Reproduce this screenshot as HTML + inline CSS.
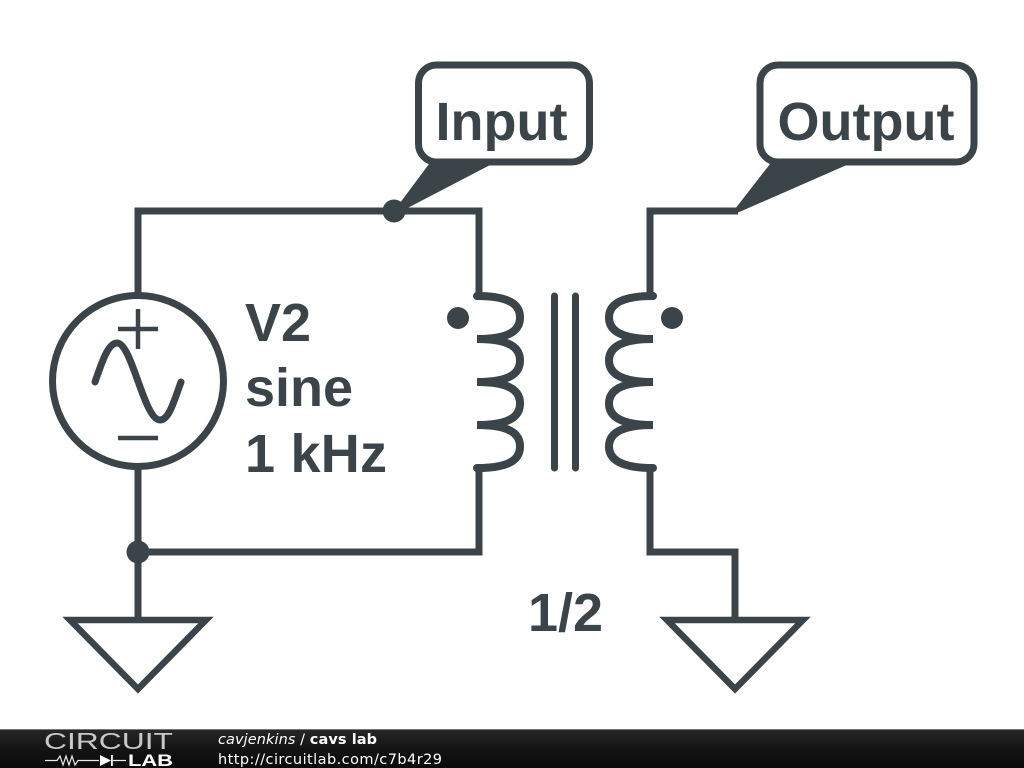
<!DOCTYPE html>
<html><head><meta charset="utf-8"><style>
html,body{margin:0;padding:0;background:#fff;width:1024px;height:768px;overflow:hidden}
svg{display:block}
</style></head><body>
<svg width="1024" height="768" viewBox="0 0 1024 768" xmlns="http://www.w3.org/2000/svg">
<defs><linearGradient id="b" x1="0" y1="0" x2="0" y2="1"><stop offset="0" stop-color="#282828"/><stop offset=".5" stop-color="#141414"/><stop offset="1" stop-color="#0a0a0a"/></linearGradient></defs>
<rect width="1024" height="768" fill="#fff"/>
<g fill="none" stroke="#3b4449" stroke-width="7" stroke-linejoin="miter">
<path d="M138 295V211H479V296"/>
<path d="M138 468V620"/>
<path d="M138 552H479V468"/>
<path d="M650 296V211H738"/>
<path d="M650 468V552H735V620"/>
<path d="M70 620H206L138 689Z" stroke-width="6.500"/>
<path d="M667 620H803L735 689Z" stroke-width="6.500"/>
<circle cx="138" cy="381" r="85.500"/>
<rect x="418.500" y="65" width="171" height="97" rx="18" fill="#fff"/>
<rect x="760" y="65" width="214" height="97" rx="18" fill="#fff"/>
<g stroke-linecap="round">
<path stroke-width="8" d="M477 296C512 296 520 306 520 317.500C520 329 512 339 477 339C512 339 520 349 520 360.500C520 372 512 382 477 382C512 382 520 392 520 403.500C520 415 512 425 477 425C512 425 520 435 520 446.500C520 458 512 468 477 468"/>
<path stroke-width="8" d="M653 296C618 296 609 306 609 317.500C609 329 618 339 653 339C618 339 609 349 609 360.500C609 372 618 382 653 382C618 382 609 392 609 403.500C609 415 618 425 653 425C618 425 609 435 609 446.500C609 458 618 468 653 468"/>
<path d="M554.500 296V468M575.500 296V468"/>
<path d="M95 382C102 362 108 343 117 343C132 343 144 420 160 420C169 420 174 401 181 382"/>
</g>
<path d="M118 329H158M138 309V349M118 438H158" stroke-width="4.500"/>
</g>
<g fill="#3b4449">
<circle cx="394" cy="211" r="11.500"/>
<circle cx="138" cy="552" r="11.500"/>
<circle cx="458" cy="318" r="11"/>
<circle cx="672" cy="318" r="11"/>
<path d="M394 211L429 164H492L398 213Z"/>
<path d="M735 209L770 164H849L737 213Z"/>
</g>
<g font-family="'Liberation Sans',sans-serif" font-weight="700" font-size="54" fill="#3b4449">
<text x="435.500" y="140">Input</text>
<text x="777.500" y="140">Output</text>
<text x="245" y="341">V2</text>
<text x="245" y="406">sine</text>
<text x="245" y="472" textLength="142">1 kHz</text>
<text x="528" y="631">1/2</text>
</g>
<rect y="729" width="1024" height="39" fill="url(#b)"/>
<rect y="729" width="1024" height="1" fill="#777"/>
<g fill="#fff">
<text x="44" y="749" font-family="'Liberation Sans',sans-serif" font-size="23" textLength="129" lengthAdjust="spacingAndGlyphs" fill="#c8c8c8">CIRCUIT</text>
<text x="128" y="766" font-family="'Liberation Sans',sans-serif" font-weight="700" font-size="17" textLength="45" lengthAdjust="spacingAndGlyphs">LAB</text>
<path d="M45 760.500H57L60 756L63 765L66 756L69 765L72 756L75 765L78 760.500H99M113 760.500H126" fill="none" stroke="#e8e8e8" stroke-width="1.200"/>
<path d="M100 755L111 760.500L100 766Z"/>
<rect x="111" y="755" width="1.800" height="11"/>
<text x="218" y="744" font-family="'DejaVu Sans',sans-serif" font-size="14.500" textLength="159"><tspan font-style="italic">cavjenkins</tspan> / <tspan font-weight="700">cavs lab</tspan></text>
<text x="218" y="764" font-family="'DejaVu Sans',sans-serif" font-size="14.500" textLength="224">http://circuitlab.com/c7b4r29</text>
</g>
</svg>
</body></html>
